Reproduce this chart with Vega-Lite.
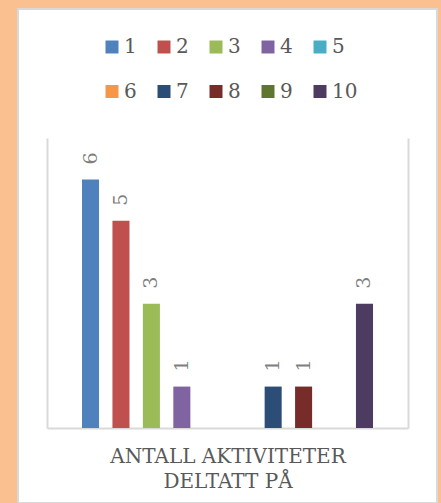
{
  "$schema": "https://vega.github.io/schema/vega-lite/v6.json",
  "autosize": "none",
  "width": 419,
  "height": 494,
  "padding": {"left": 18, "top": 9, "right": 4, "bottom": 0},
  "background": "#FAC090",
  "config": {
    "view": {"fill": "#FFFFFF", "stroke": "#D9D9D9", "strokeWidth": 2},
    "font": "DejaVu Serif"
  },
  "data": {
    "values": [
      {"category": "ANTALL AKTIVITETER DELTATT PÅ", "series": "1", "value": 6},
      {"category": "ANTALL AKTIVITETER DELTATT PÅ", "series": "2", "value": 5},
      {"category": "ANTALL AKTIVITETER DELTATT PÅ", "series": "3", "value": 3},
      {"category": "ANTALL AKTIVITETER DELTATT PÅ", "series": "4", "value": 1},
      {"category": "ANTALL AKTIVITETER DELTATT PÅ", "series": "5", "value": null},
      {"category": "ANTALL AKTIVITETER DELTATT PÅ", "series": "6", "value": null},
      {"category": "ANTALL AKTIVITETER DELTATT PÅ", "series": "7", "value": 1},
      {"category": "ANTALL AKTIVITETER DELTATT PÅ", "series": "8", "value": 1},
      {"category": "ANTALL AKTIVITETER DELTATT PÅ", "series": "9", "value": null},
      {"category": "ANTALL AKTIVITETER DELTATT PÅ", "series": "10", "value": 3}
    ]
  },
  "encoding": {
    "x": {
      "field": "category",
      "type": "nominal",
      "scale": {"range": [29, 390], "paddingInner": 0, "paddingOuter": 0},
      "axis": {
        "orient": "bottom",
        "offset": -75,
        "labels": false,
        "ticks": false,
        "grid": false,
        "domain": true,
        "domainColor": "#D9D9D9",
        "domainWidth": 2,
        "title": ["ANTALL AKTIVITETER", "DELTATT PÅ"],
        "titleFont": "DejaVu Serif",
        "titleFontSize": 20,
        "titleFontWeight": "normal",
        "titleColor": "#595959",
        "titleLineHeight": 25,
        "titlePadding": 18,
        "titleBaseline": "top"
      }
    },
    "xOffset": {
      "field": "series",
      "type": "nominal",
      "sort": ["1","2","3","4","5","6","7","8","9","10"],
      "scale": {"domain": ["1","2","3","4","5","6","7","8","9","10"], "range": [35, 326], "paddingInner": 0.44, "paddingOuter": 0}
    },
    "y": {
      "field": "value",
      "type": "quantitative",
      "scale": {"domain": [0, 7], "range": [419, 129], "nice": false}
    }
  },
  "layer": [
    {
      "mark": {"type": "bar"},
      "encoding": {
        "color": {
          "field": "series",
          "type": "nominal",
          "scale": {
            "domain": ["1","2","3","4","5","6","7","8","9","10"],
            "range": ["#4F81BD","#C0504D","#9BBB59","#8064A2","#4BACC6","#F79646","#2C4D75","#772C2A","#5F7530","#4D3B62"]
          },
          "legend": {
            "orient": "none",
            "legendX": 84,
            "legendY": 28,
            "direction": "horizontal",
            "columns": 5,
            "title": null,
            "symbolType": "square",
            "symbolSize": 169,
            "symbolStrokeWidth": 0,
            "labelFont": "DejaVu Serif",
            "labelFontSize": 20,
            "labelColor": "#595959",
            "labelOffset": 2,
            "columnPadding": 17,
            "rowPadding": 24.5,
            "padding": 0
          }
        },
        "y": {
          "field": "value",
          "type": "quantitative",
          "axis": {
            "orient": "left",
            "offset": -29,
            "labels": false,
            "ticks": false,
            "grid": false,
            "domainColor": "#D9D9D9",
            "domainWidth": 2,
            "title": null
          }
        }
      }
    },
    {
      "mark": {
        "type": "text",
        "angle": 270,
        "align": "left",
        "baseline": "middle",
        "dx": 15,
        "fontSize": 19,
        "font": "DejaVu Serif",
        "color": "#7F7F7F"
      },
      "encoding": {
        "text": {"field": "value", "type": "quantitative"},
        "y": {
          "field": "value",
          "type": "quantitative",
          "axis": {
            "orient": "right",
            "offset": -29,
            "labels": false,
            "ticks": false,
            "grid": false,
            "domainColor": "#D9D9D9",
            "domainWidth": 2,
            "title": null
          }
        }
      }
    }
  ],
  "resolve": {"axis": {"y": "independent"}}
}
